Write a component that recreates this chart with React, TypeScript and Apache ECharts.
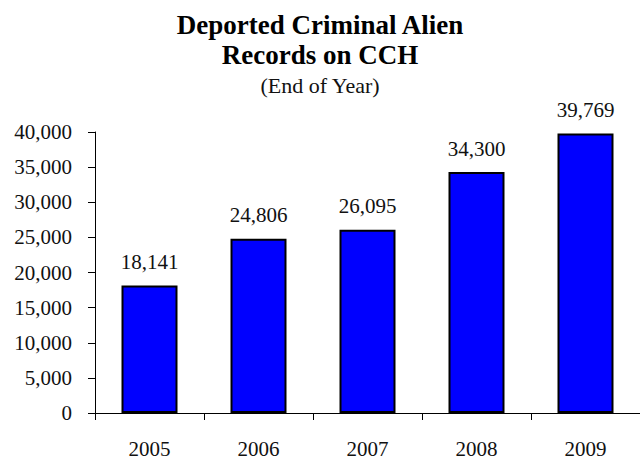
import React, { useEffect, useRef } from "react";
import * as echarts from "echarts";

const categories = ["2005", "2006", "2007", "2008", "2009"];
const values = [18141, 24806, 26095, 34300, 39769];
const titleText = "Deported Criminal Alien\nRecords on CCH";
const subtitleText = "(End of Year)";

const FONT = "'Liberation Serif', 'Times New Roman', serif";
const fmt = (v: number) => Number(v).toLocaleString("en-US");

export default function App() {
  const ref = useRef<HTMLDivElement>(null);
  useEffect(() => {
    document.body.style.margin = "0";
    const chart = echarts.init(ref.current!, null, { renderer: "svg" });
    chart.setOption({
      animation: false,
      backgroundColor: "#ffffff",
      title: {
        text: titleText,
        subtext: subtitleText,
        left: "center",
        top: 10,
        padding: 0,
        itemGap: 0,
        textStyle: {
          fontFamily: FONT,
          fontWeight: "bold",
          fontSize: 27,
          lineHeight: 30,
          color: "#000",
        },
        subtextStyle: {
          fontFamily: FONT,
          fontSize: 22,
          lineHeight: 30,
          color: "#111",
        },
      },
      grid: { left: 95, right: -5, top: 132, bottom: 49 },
      xAxis: {
        type: "category",
        data: categories,
        axisLine: { lineStyle: { color: "#000", width: 1 } },
        axisTick: { show: true, length: 7, lineStyle: { color: "#000" } },
        axisLabel: {
          fontFamily: FONT,
          fontSize: 21,
          color: "#111",
          margin: 25,
        },
      },
      yAxis: {
        type: "value",
        min: 0,
        max: 40000,
        interval: 5000,
        axisLine: { show: true, lineStyle: { color: "#000", width: 1 } },
        axisTick: { show: true, length: 7, lineStyle: { color: "#000" } },
        splitLine: { show: false },
        axisLabel: {
          fontFamily: FONT,
          fontSize: 21,
          color: "#111",
          margin: 23,
          formatter: (v: number) => fmt(v),
        },
      },
      series: [
        {
          type: "bar",
          data: values,
          barWidth: 56,
          itemStyle: { color: "#0000FF", borderColor: "#000", borderWidth: 2 },
          label: {
            show: true,
            position: "top",
            distance: 13,
            fontFamily: FONT,
            fontSize: 21,
            color: "#111",
            formatter: (p: any) => fmt(p.value),
          },
        },
      ],
    });
    return () => chart.dispose();
  }, []);
  return <div ref={ref} style={{ width: 640, height: 462 }} />;
}
